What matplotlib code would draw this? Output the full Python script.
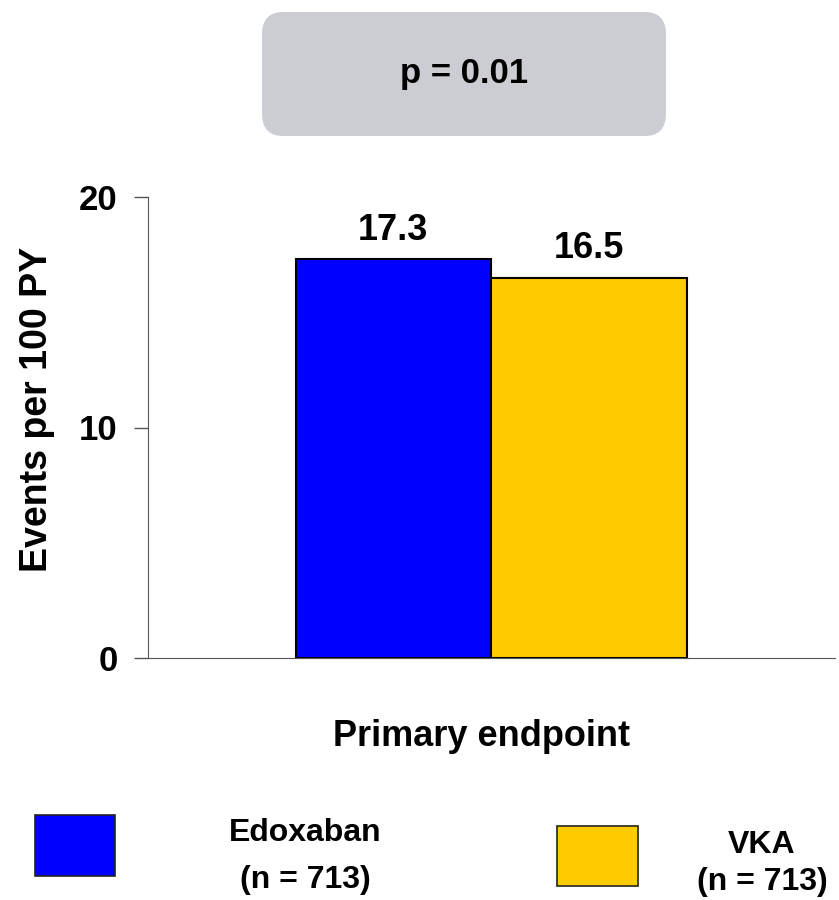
import matplotlib.pyplot as plt
from matplotlib.patches import FancyBboxPatch, Rectangle

groups = ["Edoxaban", "VKA"]
n_patients = [713, 713]
rates = [17.3, 16.5]
colors = ["#0000FF", "#FFCC00"]
p_text = "p = 0.01"

plt.rcParams['font.family'] = ['Liberation Sans', 'DejaVu Sans']
plt.rcParams['font.weight'] = 'bold'

W, H = 839, 900
fig = plt.figure(figsize=(W / 100, H / 100), dpi=100)
ax = fig.add_axes([148 / W, 1 - 658 / H, 687 / W, 461 / H])

x = [0, 1]
ax.bar(x, rates, width=1.0, color=colors, edgecolor="black", linewidth=1.5)
for xi, v in zip(x, rates):
    ax.text(xi, v + 0.5, f"{v}", ha="center", va="bottom", fontsize=26, fontweight="bold")

ax.set_xlim(-1.255, 2.259)
ax.set_ylim(0, 20)
ax.set_yticks([0, 10, 20])
ax.set_xticks([])
ax.tick_params(axis="y", length=10, width=1, color="#555555", labelsize=25, pad=12)
for lbl in ax.get_yticklabels():
    lbl.set_fontweight("bold")
ax.spines["top"].set_visible(False)
ax.spines["right"].set_visible(False)
ax.spines["left"].set_color("#555555")
ax.spines["bottom"].set_color("#555555")

# axis titles
fig.text(37 / W, 1 - 409 / H, "Events per 100 PY", rotation=90, ha="center", va="center",
         fontsize=27, fontweight="bold")
fig.text(482 / W, 1 - 737 / H, "Primary endpoint", ha="center", va="center",
         fontsize=26, fontweight="bold")

# p-value box
box = FancyBboxPatch((262 / W, 1 - 136 / H), 404 / W, 124 / H,
                     boxstyle="round,pad=0,rounding_size=0.025",
                     transform=fig.transFigure, facecolor="#CCCDD2", edgecolor="none")
fig.patches.append(box)
fig.text(464 / W, 1 - 74 / H, p_text, ha="center", va="center", fontsize=25, fontweight="bold")

# legend
legend_boxes = [(35, 815, 80, 61), (557, 826, 81, 60)]
legend_text_x = [305, 762]
legend_text_y = [(833, 880), (845, 882)]
for (lx, ly, lw, lh), c, tx, (ty1, ty2), name, n in zip(legend_boxes, colors, legend_text_x,
                                                       legend_text_y, groups, n_patients):
    fig.patches.append(Rectangle((lx / W, 1 - (ly + lh) / H), lw / W, lh / H,
                                 transform=fig.transFigure, facecolor=c,
                                 edgecolor="#222222", linewidth=1.2))
    fig.text(tx / W, 1 - ty1 / H, name, ha="center", va="center", fontsize=23, fontweight="bold")
    fig.text(tx / W, 1 - ty2 / H, f"(n = {n})", ha="center", va="center", fontsize=23, fontweight="bold")

fig.savefig("out.png", dpi=100)
